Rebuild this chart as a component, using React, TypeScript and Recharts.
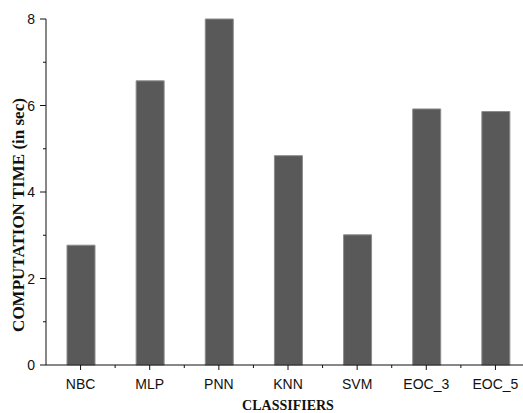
import React from "react";
import { Bar, BarChart, XAxis, YAxis, Label } from "recharts";

const classifiers = ["NBC", "MLP", "PNN", "KNN", "SVM", "EOC_3", "EOC_5"];
const computationTime = [2.77, 6.57, 8.0, 4.84, 3.01, 5.92, 5.86];
// every integer gets a tick; even ones are labelled, odd ones are minor
const yTicks = [0, 1, 2, 3, 4, 5, 6, 7, 8];

const data = classifiers.map((name, i) => ({ name, time: computationTime[i] }));

const INK = "#111";
const sansFont = "Liberation Sans, Arial, sans-serif";
const serifFont = "Liberation Serif, Times New Roman, serif";

function XTick(props: any) {
    const { x, y, payload } = props;
    const half = payload.offset || 0;
    return (
        <g>
            <line x1={x} y1={y} x2={x} y2={y + 5} stroke={INK} />
            <line x1={x + half} y1={y} x2={x + half} y2={y + 3} stroke={INK} />
            <text x={x} y={y + 24} textAnchor="middle" fontFamily={sansFont} fontSize={14} fill={INK}>
                {payload.value}
            </text>
        </g>
    );
}

function YTick(props: any) {
    const { x, y, payload } = props;
    const major = payload.value % 2 === 0;
    return (
        <g>
            <line x1={x - (major ? 6 : 3)} y1={y} x2={x} y2={y} stroke={INK} />
            {major && (
                <text x={x - 11} y={y + 5} textAnchor="end" fontFamily={sansFont} fontSize={14} fill={INK}>
                    {payload.value}
                </text>
            )}
        </g>
    );
}

function YTitle(props: any) {
    const vb = props.viewBox;
    const cx = vb.x + 18;
    const cy = vb.y + vb.height / 2 + 23;
    return (
        <text
            x={cx}
            y={cy}
            transform={`rotate(-90, ${cx}, ${cy})`}
            textAnchor="middle"
            dominantBaseline="central"
            fontFamily={serifFont}
            fontWeight={700}
            fontSize={17}
            fill={INK}
        >
            COMPUTATION TIME (in sec)
        </text>
    );
}

export default function App() {
    return (
        <div style={{ position: "absolute", left: 0, top: 0, width: 523, height: 413, overflow: "hidden", background: "#fff" }}>
            <BarChart width={530} height={413} data={data} margin={{ top: 19, right: 0, bottom: 0, left: 0 }}>
                <XAxis
                    dataKey="name"
                    tick={<XTick />}
                    tickSize={0}
                    tickMargin={0}
                    tickLine={false}
                    axisLine={{ stroke: INK }}
                    height={48}
                    interval={0}
                >
                    <Label
                        value="CLASSIFIERS"
                        position="insideBottom"
                        offset={3}
                        style={{ fontFamily: serifFont, fontWeight: 700, fontSize: 14, fill: INK }}
                    />
                </XAxis>
                <YAxis
                    domain={[0, 8]}
                    ticks={yTicks}
                    interval={0}
                    tick={<YTick />}
                    tickSize={0}
                    tickMargin={0}
                    tickLine={false}
                    axisLine={{ stroke: INK }}
                    width={46}
                >
                    <Label content={<YTitle />} />
                </YAxis>
                <Bar dataKey="time" fill="#595959" stroke="#8c8c8c" strokeWidth={1} barSize={28} isAnimationActive={false} />
            </BarChart>
        </div>
    );
}
